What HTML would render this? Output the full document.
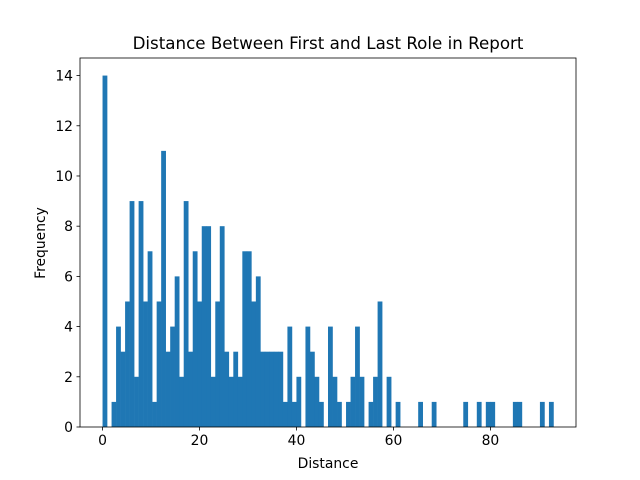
<!DOCTYPE html>
<html><head><meta charset="utf-8"><style>body{margin:0;background:#fff}svg{display:block}text{font-family:"DejaVu Sans","Liberation Sans",sans-serif;fill:#000}</style></head>
<body>
<svg id="chart" width="640" height="480">
<rect x="0" y="0" width="640" height="480" fill="#fff"/>
<g id="bars"></g>
<g id="axes"></g>
<text x="328" y="49" text-anchor="middle" font-size="16.7">Distance Between First and Last Role in Report</text>
<text x="328" y="468" text-anchor="middle" font-size="13.9">Distance</text>
<text x="45" y="243" text-anchor="middle" font-size="13.9" transform="rotate(-90 45 243)">Frequency</text>
</svg>
<script>
const binStart = 0;
const binWidth = 0.93;
const counts = [14,0,1,4,3,5,9,2,9,5,7,1,5,11,3,4,6,2,9,3,7,5,8,8,2,5,8,3,2,3,2,7,7,5,6,3,3,3,3,3,1,4,1,2,0,4,3,2,1,0,4,2,1,0,1,2,4,2,0,1,2,5,0,2,0,1,0,0,0,0,1,0,0,1,0,0,0,0,0,0,1,0,0,1,0,1,1,0,0,0,0,1,1,0,0,0,0,1,0,1];
const xTicks = [0,20,40,60,80];
const yTicks = [0,2,4,6,8,10,12,14];
const L=80,R=576,T=58,B=427;
const xmin=-4.65,xmax=97.65,ymin=0,ymax=14.7;
function xs(v){return L+(v-xmin)/(xmax-xmin)*(R-L);}
function ys(v){return B-(v-ymin)/(ymax-ymin)*(B-T);}
const NS="http://www.w3.org/2000/svg";
const bars=document.getElementById('bars');
counts.forEach((c,i)=>{
  if(c<=0)return;
  const r=document.createElementNS(NS,'rect');
  const x0=xs(binStart+i*binWidth),x1=xs(binStart+(i+1)*binWidth);
  r.setAttribute('x',x0);r.setAttribute('width',x1-x0+0.3);
  r.setAttribute('y',ys(c));r.setAttribute('height',ys(0)-ys(c));
  r.setAttribute('fill','#1f77b4');
  
  
  bars.appendChild(r);
});
const axes=document.getElementById('axes');
const frame=document.createElementNS(NS,'rect');
frame.setAttribute('x',L);frame.setAttribute('y',T);frame.setAttribute('width',R-L);frame.setAttribute('height',B-T);
frame.setAttribute('fill','none');frame.setAttribute('stroke','#000');frame.setAttribute('stroke-width','0.8');


axes.appendChild(frame);
xTicks.forEach(t=>{
  const x=xs(t);
  const l=document.createElementNS(NS,'line');
  l.setAttribute('x1',x);l.setAttribute('x2',x);l.setAttribute('y1',B);l.setAttribute('y2',B+3.5);
  l.setAttribute('stroke','#000');l.setAttribute('stroke-width','0.8');
  
  
  axes.appendChild(l);
  const tx=document.createElementNS(NS,'text');
  tx.setAttribute('x',x);tx.setAttribute('y',B+18);tx.setAttribute('text-anchor','middle');tx.setAttribute('font-size','13.9');
  tx.textContent=t;
  
  
  axes.appendChild(tx);
});
yTicks.forEach(t=>{
  const y=ys(t);
  const l=document.createElementNS(NS,'line');
  l.setAttribute('x1',L-3.5);l.setAttribute('x2',L);l.setAttribute('y1',y);l.setAttribute('y2',y);
  l.setAttribute('stroke','#000');l.setAttribute('stroke-width','0.8');
  
  
  axes.appendChild(l);
  const tx=document.createElementNS(NS,'text');
  tx.setAttribute('x',L-7);tx.setAttribute('y',y+5);tx.setAttribute('text-anchor','end');tx.setAttribute('font-size','13.9');
  tx.textContent=t;
  
  
  axes.appendChild(tx);
});
</script>
</body></html>
